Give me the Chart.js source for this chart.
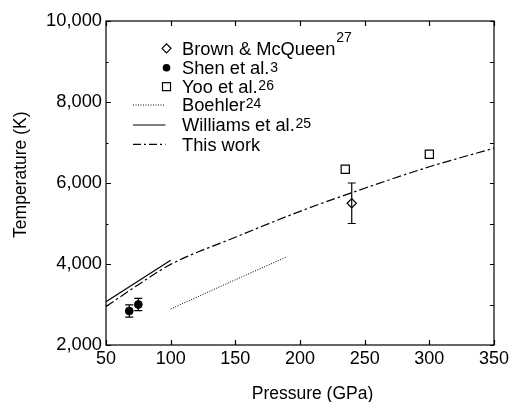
<!DOCTYPE html>
<html>
<head>
<meta charset="utf-8">
<script src="https://cdn.jsdelivr.net/npm/chart.js@4.4.1/dist/chart.umd.min.js"></script>
<style>
  html, body { margin: 0; padding: 0; background: #fff; }
  #wrap { width: 513px; height: 402px; }
</style>
</head>
<body>
<div id="wrap"><canvas id="chart" width="513" height="402"></canvas></div>
<script>
// Datos
const xTicks = [50, 100, 150, 200, 250, 300, 350];
const yTicks = [2000, 4000, 6000, 8000, 10000];

const brownP = [240];
const brownT = [5500];
const brownErr = [500];

const shenP = [68, 75];
const shenT = [2840, 3000];
const shenErr = [150, 150];

const yooP = [235, 300];
const yooT = [6340, 6710];

const boehlerP = [100, 150, 190];
const boehlerT = [2890, 3610, 4180];

const williamsP = [50, 75, 100];
const williamsT = [3070, 3580, 4090];

const thisWorkP = [50, 75, 100, 150, 200, 250, 300, 350];
const thisWorkT = [2950, 3490, 3990, 4660, 5300, 5870, 6400, 6860];

const legendLabels = ['Brown & McQueen', 'Shen et al.', 'Yoo et al.', 'Boehler', 'Williams et al.', 'This work'];
const legendRefs = ['27', '3', '26', '24', '25', ''];

const xTitle = 'Pressure (GPa)';
const yTitle = 'Temperature (K)';

const FONT = "'Liberation Sans', Arial, Helvetica, sans-serif";
const toXY = (xs, ys) => xs.map((x, i) => ({ x: x, y: ys[i] }));

const DASHDOT = [9, 3, 2.5, 3];
const DOTTED = [1, 1.5];

// Barras de error, marco, ticks interiores, leyenda y títulos
const decor = {
    id: 'decor',
    afterDatasetsDraw(chart) {
        const ctx = chart.ctx;
        const ys = chart.scales.y;
        chart.data.datasets.forEach((ds, i) => {
            if (!ds.errT) return;
            const meta = chart.getDatasetMeta(i);
            meta.data.forEach((pt, j) => {
                const v = ds.data[j].y;
                const top = ys.getPixelForValue(v + ds.errT[j]);
                const bot = ys.getPixelForValue(v - ds.errT[j]);
                ctx.save();
                ctx.strokeStyle = '#000';
                ctx.lineWidth = 1.2;
                ctx.beginPath();
                ctx.moveTo(pt.x, top); ctx.lineTo(pt.x, bot);
                ctx.moveTo(pt.x - 4, top); ctx.lineTo(pt.x + 4, top);
                ctx.moveTo(pt.x - 4, bot); ctx.lineTo(pt.x + 4, bot);
                ctx.stroke();
                ctx.restore();
            });
        });
    },
    afterDraw(chart) {
        const ctx = chart.ctx;
        const a = chart.chartArea;
        const xs = chart.scales.x;
        const ys = chart.scales.y;
        ctx.save();
        ctx.strokeStyle = '#000';
        ctx.lineWidth = 1.2;
        ctx.strokeRect(a.left, a.top, a.right - a.left, a.bottom - a.top);

        ctx.beginPath();
        xTicks.forEach(v => {
            const px = Math.round(xs.getPixelForValue(v)) + 0.5;
            ctx.moveTo(px, a.bottom); ctx.lineTo(px, a.bottom - 5);
            ctx.moveTo(px, a.top); ctx.lineTo(px, a.top + 5);
        });
        for (let v = 2000; v <= 10000; v += 1000) {
            const py = Math.round(ys.getPixelForValue(v)) + 0.5;
            const major = v % 2000 === 0;
            ctx.moveTo(a.left, py); ctx.lineTo(a.left + (major ? 5 : 2.5), py);
            ctx.moveTo(a.right, py); ctx.lineTo(a.right - 4, py);
        }
        ctx.stroke();

        // Leyenda
        const rowY = [48.3, 67.7, 86.7, 105, 125, 144.3];
        const supDy = [-6.6, 3.8, 3.3, 3.3, 2.5, 0];
        const mx = 166.5, textX = 182;
        ctx.fillStyle = '#000';
        legendLabels.forEach((lab, i) => {
            const y = rowY[i];
            ctx.setLineDash([]);
            ctx.lineWidth = 1.2;
            if (i === 0) {
                ctx.beginPath();
                ctx.moveTo(mx - 4.5, y); ctx.lineTo(mx, y - 4.5);
                ctx.lineTo(mx + 4.5, y); ctx.lineTo(mx, y + 4.5);
                ctx.closePath(); ctx.stroke();
            } else if (i === 1) {
                ctx.beginPath(); ctx.arc(mx, y, 3.8, 0, Math.PI * 2); ctx.fill();
            } else if (i === 2) {
                ctx.strokeRect(mx - 4, y - 4, 8, 8);
            } else {
                ctx.beginPath();
                if (i === 3) { ctx.setLineDash(DOTTED); ctx.lineWidth = 1; }
                if (i === 5) ctx.setLineDash([8, 3, 2, 3]);
                ctx.moveTo(133, y); ctx.lineTo(165.5, y);
                ctx.stroke();
                ctx.setLineDash([]);
            }
            ctx.font = '18.3px ' + FONT;
            ctx.textAlign = 'left';
            ctx.textBaseline = 'alphabetic';
            ctx.fillText(lab, textX, y + 6.2);
            if (legendRefs[i]) {
                const w = ctx.measureText(lab).width;
                ctx.font = '14px ' + FONT;
                ctx.fillText(legendRefs[i], textX + w + 0.8, y + supDy[i]);
            }
        });

        // Títulos de ejes
        ctx.font = '17.5px ' + FONT;
        ctx.textAlign = 'center';
        ctx.textBaseline = 'alphabetic';
        ctx.fillText(xTitle, 312.5, 398.5);
        ctx.translate(25.5, 174.7);
        ctx.rotate(-Math.PI / 2);
        ctx.fillText(yTitle, 0, 0);
        ctx.restore();
    }
};

const ctx = document.getElementById('chart').getContext('2d');
const chart = new Chart(ctx, {
    type: 'scatter',
    data: {
        datasets: [
            {
                label: legendLabels[5],
                data: toXY(thisWorkP, thisWorkT),
                showLine: true,
                borderColor: '#000',
                borderWidth: 1.2,
                borderDash: DASHDOT,
                pointRadius: 0,
                cubicInterpolationMode: 'monotone'
            },
            {
                label: legendLabels[4],
                data: toXY(williamsP, williamsT),
                showLine: true,
                borderColor: '#000',
                borderWidth: 1.2,
                pointRadius: 0,
                cubicInterpolationMode: 'monotone'
            },
            {
                label: legendLabels[3],
                data: toXY(boehlerP, boehlerT),
                showLine: true,
                borderColor: '#000',
                borderWidth: 1,
                borderDash: DOTTED,
                pointRadius: 0,
                cubicInterpolationMode: 'monotone'
            },
            {
                label: legendLabels[0],
                data: toXY(brownP, brownT),
                errT: brownErr,
                pointStyle: 'rectRot',
                pointRadius: 4.6,
                backgroundColor: '#fff',
                borderColor: '#000',
                borderWidth: 1.2
            },
            {
                label: legendLabels[1],
                data: toXY(shenP, shenT),
                errT: shenErr,
                pointStyle: 'circle',
                pointRadius: 3.9,
                backgroundColor: '#000',
                borderColor: '#000',
                borderWidth: 1
            },
            {
                label: legendLabels[2],
                data: toXY(yooP, yooT),
                pointStyle: 'rect',
                pointRadius: 5.8,
                backgroundColor: '#fff',
                borderColor: '#000',
                borderWidth: 1.2
            }
        ]
    },
    options: {
        responsive: false,
        animation: false,
        events: [],
        layout: { padding: { left: 10, right: 19, top: 21, bottom: 0 } },
        plugins: {
            legend: { display: false },
            tooltip: { enabled: false }
        },
        scales: {
            x: {
                type: 'linear',
                min: 50,
                max: 350,
                afterBuildTicks: s => { s.ticks = xTicks.map(v => ({ value: v })); },
                afterFit: s => { s.height = 57; },
                grid: { display: false, drawTicks: false },
                border: { display: false },
                ticks: {
                    padding: 3,
                    color: '#000',
                    font: { family: FONT, size: 18 },
                    maxRotation: 0
                }
            },
            y: {
                type: 'linear',
                min: 2000,
                max: 10000,
                afterBuildTicks: s => { s.ticks = yTicks.map(v => ({ value: v })); },
                afterFit: s => { s.width = 96; },
                grid: { display: false, drawTicks: false },
                border: { display: false },
                ticks: {
                    padding: 4,
                    color: '#000',
                    font: { family: FONT, size: 18.3 },
                    callback: v => v.toLocaleString('en-US')
                }
            }
        }
    },
    plugins: [decor]
});
</script>
</body>
</html>
